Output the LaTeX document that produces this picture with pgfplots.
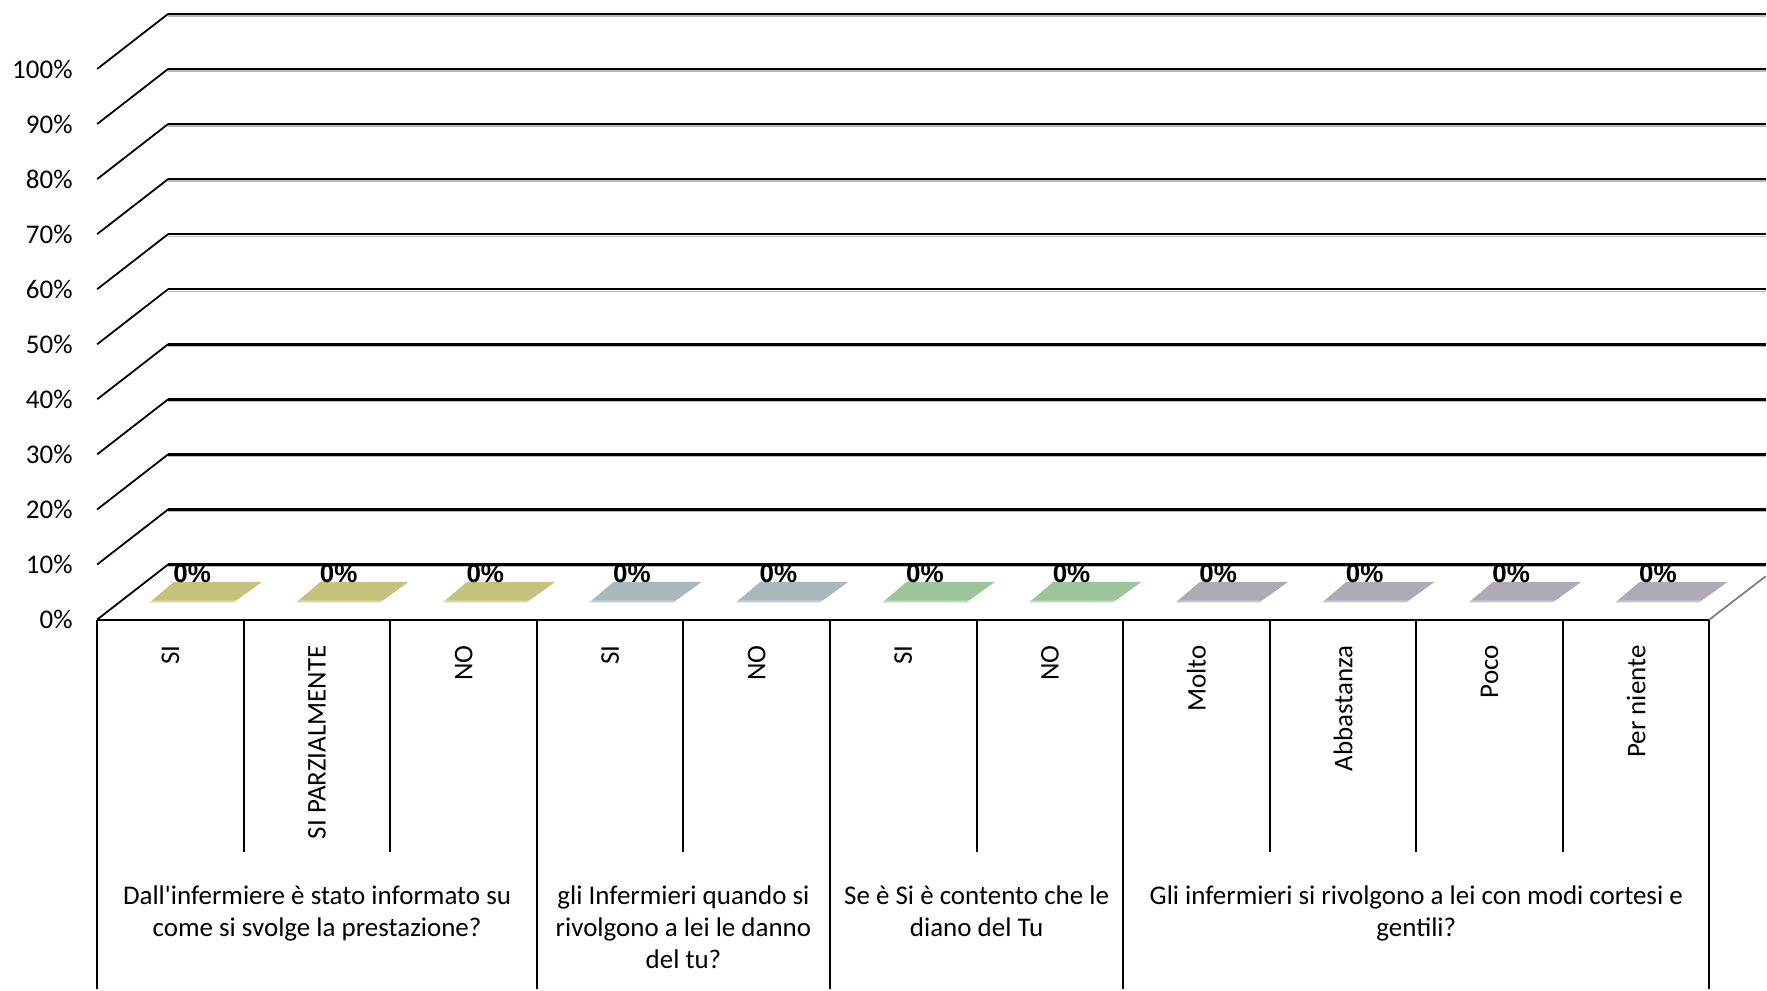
\documentclass[border=0pt]{standalone}
\usepackage{fontspec}
\setmainfont{Carlito}[Ligatures=TeXOff]
\newfontfamily\arialfont{Liberation Sans}
\usepackage{pgfplots}
\pgfplotsset{compat=1.18}

\definecolor{colA}{HTML}{C3C37B}
\definecolor{colB}{HTML}{A8B8BC}
\definecolor{colC}{HTML}{9CC59B}
\definecolor{colD}{HTML}{AEAAB6}

\pgfdeclareplotmark{flatbar}{%
  \pgfpathmoveto{\pgfqpoint{-10.3pt}{8.65pt}}%
  \pgfpathlineto{\pgfqpoint{31.7pt}{8.65pt}}%
  \pgfpathlineto{\pgfqpoint{45.85pt}{18.85pt}}%
  \pgfpathlineto{\pgfqpoint{1.7pt}{18.85pt}}%
  \pgfpathclose
  \pgfusepath{fill}%
  \begin{pgfscope}%
  \pgfpathmoveto{\pgfqpoint{-10.3pt}{8.65pt}}%
  \pgfpathlineto{\pgfqpoint{31.7pt}{8.65pt}}%
  \pgfpathlineto{\pgfqpoint{33.1pt}{9.65pt}}%
  \pgfpathlineto{\pgfqpoint{-8.9pt}{9.65pt}}%
  \pgfpathclose
  \pgfsetfillcolor{white}\pgfsetfillopacity{0.35}%
  \pgfusepath{fill}%
  \end{pgfscope}%
}

\newcommand{\gline}[2]{%
  \draw[line width=0.9pt] (axis cs:-0.5,#1) -- (axis cs:-0.016,#2);
  \draw[gray!55, line width=0.8pt] ([yshift=-1.1pt]axis cs:-0.016,#2) -- ([yshift=-1.1pt]axis cs:10.884,#2);
  \draw[line width=1.3pt] (axis cs:-0.016,#2) -- (axis cs:10.884,#2);
}

\begin{document}
\begin{tikzpicture}
\begin{axis}[
  width=883.5pt, height=495pt, scale only axis,
  xmin=-1.1632, xmax=10.884, ymin=-67.15, ymax=112.52,
  axis line style={draw=none}, major tick length=0pt, tick style={draw=none},
  clip=false,
  /pgf/number format/assume math mode=true,
  ytick={0,10,20,30,40,50,60,70,80,90,100},
  yticklabels={0\%,10\%,20\%,30\%,40\%,50\%,60\%,70\%,80\%,90\%,100\%},
  yticklabel style={anchor=east, inner sep=0pt, xshift=36.5pt, font=\fontsize{13.5}{13.5}\selectfont},
  xtick={0,1,2,3,4,5,6,7,8,9,10},
  xticklabels={SI, SI PARZIALMENTE, NO, SI, NO, SI, NO, Molto, Abbastanza, Poco, Per niente},
  xticklabel style={yshift=172.3pt, rotate=90, anchor=east, inner sep=0pt, font=\fontsize{13.5}{13.5}\selectfont},
  every node near coord/.style={anchor=center, xshift=10.85pt, yshift=23.15pt, text=black, font=\arialfont\bfseries\fontsize{13}{13}\selectfont},
]
% perspective gridlines
\gline{0}{10}
\gline{10}{20}
\gline{20}{30}
\gline{30}{40}
\gline{40}{50}
\gline{50}{60}
\gline{60}{70}
\gline{70}{80}
\gline{80}{90}
\gline{90}{100}
\gline{100}{110}
% floor front edge and right edge
\draw[line width=1pt] (axis cs:-0.5,0) -- (axis cs:10.5,0);
\draw[gray, line width=0.9pt] (axis cs:10.5,0) -- (axis cs:10.884,7.86);
% category box lines
\draw[line width=1pt] (axis cs:-0.5,0) -- (axis cs:-0.5,-67.15);
\draw[line width=1pt] (axis cs:2.5,0) -- (axis cs:2.5,-67.15);
\draw[line width=1pt] (axis cs:4.5,0) -- (axis cs:4.5,-67.15);
\draw[line width=1pt] (axis cs:6.5,0) -- (axis cs:6.5,-67.15);
\draw[line width=1pt] (axis cs:10.5,0) -- (axis cs:10.5,-67.15);
\draw[line width=1pt] (axis cs:0.5,0) -- (axis cs:0.5,-42.3);
\draw[line width=1pt] (axis cs:1.5,0) -- (axis cs:1.5,-42.3);
\draw[line width=1pt] (axis cs:3.5,0) -- (axis cs:3.5,-42.3);
\draw[line width=1pt] (axis cs:5.5,0) -- (axis cs:5.5,-42.3);
\draw[line width=1pt] (axis cs:7.5,0) -- (axis cs:7.5,-42.3);
\draw[line width=1pt] (axis cs:8.5,0) -- (axis cs:8.5,-42.3);
\draw[line width=1pt] (axis cs:9.5,0) -- (axis cs:9.5,-42.3);
% group labels
\begin{scope}[every node/.style={anchor=north, align=center, inner sep=0pt, font=\fontsize{13.5}{16.2}\selectfont}]
\node at (axis cs:1,-48.2) {Dall'infermiere è stato informato su\\come si svolge la prestazione?};
\node at (axis cs:3.5,-48.2) {gli Infermieri quando si\\rivolgono a lei le danno\\del tu?};
\node at (axis cs:5.5,-48.2) {Se è Si è contento che le\\diano del Tu};
\node at (axis cs:8.5,-48.2) {Gli infermieri si rivolgono a lei con modi cortesi e\\gentili?};
\end{scope}
% data (all values 0%)
\addplot[only marks, mark=flatbar, color=colA, point meta=y,
  nodes near coords={\pgfmathprintnumber{\pgfplotspointmeta}\%}]
  coordinates {(0,0) (1,0) (2,0)};
\addplot[only marks, mark=flatbar, color=colB, point meta=y,
  nodes near coords={\pgfmathprintnumber{\pgfplotspointmeta}\%}]
  coordinates {(3,0) (4,0)};
\addplot[only marks, mark=flatbar, color=colC, point meta=y,
  nodes near coords={\pgfmathprintnumber{\pgfplotspointmeta}\%}]
  coordinates {(5,0) (6,0)};
\addplot[only marks, mark=flatbar, color=colD, point meta=y,
  nodes near coords={\pgfmathprintnumber{\pgfplotspointmeta}\%}]
  coordinates {(7,0) (8,0) (9,0) (10,0)};
\end{axis}
\end{tikzpicture}
\end{document}
